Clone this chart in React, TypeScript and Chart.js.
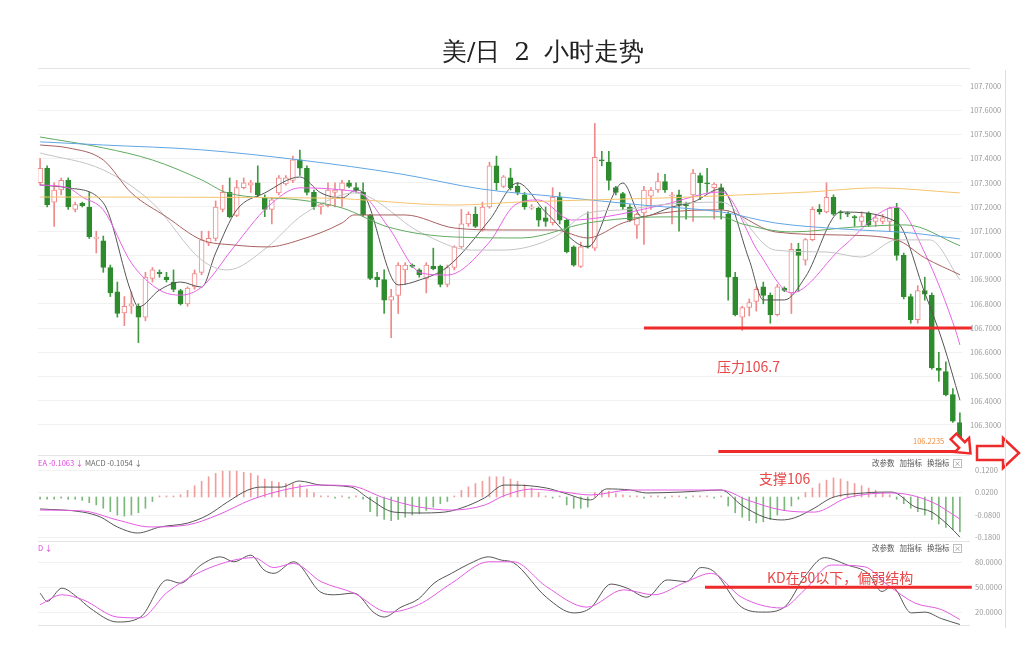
import React, { useEffect, useRef } from "react";
import { Chart, registerables } from "chart.js";
Chart.register(...registerables);

// ---------- candles ----------
const openP = [107.30,107.36,107.22,107.27,107.31,107.19,107.215,107.20,107.07,107.06,106.95,106.85,106.762,106.79,106.79,106.745,106.905,106.93,106.91,106.89,106.855,106.80,106.87,106.93,107.05,107.07,107.19,107.26,107.165,107.28,107.29,107.30,107.24,107.19,107.258,107.295,107.31,107.395,107.36,107.26,107.20,107.205,107.26,107.27,107.30,107.28,107.26,107.165,106.91,106.90,106.815,106.835,106.94,106.96,106.94,106.905,106.955,106.955,106.88,106.95,107.035,107.13,107.17,107.105,107.20,107.37,107.285,107.32,107.285,107.25,107.195,107.195,107.155,107.135,107.24,107.145,107.035,106.955,107.04,107.03,107.395,107.385,107.28,107.255,107.20,107.125,107.175,107.245,107.27,107.305,107.245,107.25,107.21,107.25,107.33,107.30,107.28,107.28,107.17,106.91,106.745,106.785,106.81,106.87,106.835,106.755,106.865,106.845,107.025,106.98,107.065,107.19,107.18,107.24,107.18,107.175,107.16,107.14,107.175,107.14,107.14,107.14,107.195,107.00,106.83,106.735,106.855,106.835,106.535,106.52,106.425,106.31];
const highP = [107.40,107.37,107.30,107.32,107.32,107.22,107.22,107.26,107.10,107.08,106.96,106.89,106.83,106.85,106.80,106.93,106.95,106.94,106.93,106.94,106.86,106.87,106.94,107.10,107.10,107.225,107.29,107.32,107.31,107.32,107.31,107.37,107.25,107.24,107.33,107.33,107.41,107.435,107.37,107.27,107.215,107.30,107.30,107.31,107.31,107.30,107.30,107.17,106.93,106.94,106.86,106.97,106.97,106.965,106.945,106.97,107.03,106.96,106.96,107.04,107.19,107.18,107.20,107.22,107.385,107.41,107.33,107.36,107.30,107.26,107.21,107.20,107.20,107.28,107.26,107.15,107.04,107.055,107.18,107.545,107.43,107.43,107.285,107.26,107.21,107.175,107.285,107.28,107.34,107.335,107.26,107.27,107.22,107.355,107.34,107.36,107.30,107.295,107.18,106.93,106.79,106.82,106.87,106.89,106.845,106.88,106.87,107.05,107.05,107.07,107.20,107.21,107.30,107.25,107.185,107.18,107.165,107.18,107.18,107.17,107.17,107.20,107.215,107.01,106.84,106.875,106.91,106.845,106.60,106.56,106.45,106.35];
const lowP = [107.29,107.20,107.12,107.25,107.19,107.18,107.20,107.07,107.01,106.93,106.83,106.745,106.71,106.76,106.64,106.73,106.89,106.91,106.89,106.85,106.795,106.79,106.86,106.92,107.04,107.06,107.18,107.155,107.16,107.275,107.26,107.24,107.16,107.13,107.25,107.29,107.30,107.33,107.25,107.19,107.17,107.20,107.20,107.20,107.28,107.26,107.16,106.90,106.87,106.76,106.66,106.76,106.88,106.95,106.91,106.845,106.94,106.87,106.87,106.94,107.03,107.12,107.115,107.10,107.195,107.27,107.28,107.27,107.25,107.19,107.19,107.12,107.12,107.125,107.13,107.01,106.955,106.95,107.03,107.02,107.37,107.27,107.25,107.19,107.14,107.07,107.045,107.19,107.26,107.26,107.13,107.10,107.15,107.14,107.23,107.26,107.15,107.15,106.815,106.75,106.69,106.75,106.77,106.80,106.72,106.75,106.85,106.76,106.85,106.96,107.06,107.17,107.175,107.165,107.15,107.16,107.12,107.12,107.12,107.12,107.13,107.10,106.98,106.82,106.72,106.72,106.815,106.53,106.48,106.42,106.31,106.215];
const closeP = [107.36,107.21,107.27,107.31,107.20,107.21,107.205,107.076,107.075,106.95,106.845,106.76,106.79,106.80,106.745,106.91,106.94,106.925,106.90,106.86,106.80,106.865,106.925,107.064,107.07,107.20,107.26,107.16,107.28,107.30,107.30,107.25,107.19,107.23,107.32,107.32,107.395,107.36,107.26,107.20,107.21,107.27,107.27,107.30,107.285,107.27,107.167,106.905,106.90,106.815,106.83,106.96,106.96,106.955,106.92,106.96,106.945,106.88,106.95,107.035,107.13,107.17,107.12,107.20,107.37,107.30,107.325,107.28,107.26,107.20,107.20,107.145,107.14,107.24,107.145,107.015,106.96,107.035,107.035,107.405,107.39,107.31,107.26,107.20,107.145,107.17,107.27,107.27,107.305,107.27,107.25,107.21,107.205,107.34,107.30,107.295,107.295,107.19,106.91,106.755,106.785,106.805,106.86,106.835,106.755,106.87,106.855,107.025,107.00,107.065,107.19,107.18,107.24,107.17,107.175,107.17,107.155,107.16,107.125,107.155,107.155,107.195,107.00,106.83,106.735,106.855,106.84,106.535,106.525,106.425,106.315,106.2235];

// ---------- moving averages [index, price] ----------
const ma5 = [[0,107.291],[4,107.279],[9,107.217],[13,106.845],[14,106.787],[17,106.857],[20,106.890],[23,106.869],[25,107.010],[28,107.188],[32,107.258],[37,107.324],[40,107.258],[43,107.237],[45,107.270],[46,107.258],[51,106.878],[54,106.898],[58,106.952],[64,107.146],[68,107.299],[72,107.179],[78,107.035],[83,107.299],[85.7,107.16],[90,107.20],[93,107.22],[97,107.275],[101,106.981],[103,106.816],[106,106.816],[109,106.911],[114,107.179],[122,107.138],[126,106.845],[128.6,106.638],[131,106.402]];
const ma10 = [[0,107.291],[4,107.279],[6,107.241],[9,107.188],[13,106.969],[17,106.857],[20,106.836],[23,106.869],[27.6,107.035],[32.4,107.200],[37,107.279],[43,107.270],[46,107.250],[49.6,107.117],[54.3,106.927],[58,106.919],[64,107.055],[67.6,107.208],[71,107.229],[75.7,107.146],[80.4,107.159],[88.6,107.208],[97,107.262],[102.4,107.010],[107,106.845],[114.3,107.035],[121.9,107.200],[126,107.01],[130.5,106.68],[131,106.63]];
const ma20 = [[0,107.423],[9,107.353],[16,107.217],[23,106.981],[26.7,106.940],[32.4,107.035],[37,107.159],[43,107.250],[44.7,107.258],[54.3,107.093],[61.4,107.022],[66,107.022],[73.3,107.076],[78,107.175],[83,107.188],[88.6,107.21],[97,107.22],[104.7,107.022],[112,107.014],[117,106.993],[122,107.064],[126.7,107.064],[131,106.90]];
const ma30 = [[0,107.456],[4,107.444],[9,107.394],[13,107.258],[18,107.159],[23,107.064],[27.6,107.043],[32.4,107.035],[37,107.064],[43,107.134],[44.7,107.167],[52,107.167],[59,107.113],[66,107.105],[73.3,107.105],[78,107.072],[83,107.134],[88.6,107.175],[97,107.188],[104.7,107.097],[114.3,107.084],[122,107.064],[126,106.99],[131,106.92]];
const ma60 = [[0,107.489],[9,107.444],[16,107.394],[23,107.312],[26.7,107.258],[37,107.229],[43,107.196],[49.6,107.117],[59,107.076],[68.6,107.072],[78,107.134],[88.6,107.159],[97,107.159],[100,107.13],[107,107.097],[116,107.117],[123.3,107.126],[131,107.04]];
const ma120 = [[0,107.469],[9,107.456],[23,107.436],[37,107.394],[51.4,107.336],[62.9,107.274],[74.3,107.241],[85.7,107.208],[97.1,107.179],[104.7,107.134],[114.3,107.109],[123.9,107.093],[131,107.068]];
const ma250 = [[0,107.241],[40,107.237],[59,107.208],[68.6,107.221],[88.6,107.237],[100,107.250],[109.6,107.262],[119,107.279],[131,107.258]];

// ---------- MACD ----------
const macdHist = [-0.01,-0.01,-0.01,-0.005,-0.01,-0.01,-0.015,
  -0.025,-0.035,-0.05,-0.065,-0.08,-0.085,-0.08,-0.07,-0.05,-0.02,
  0.005,0.005,0.005,0.01,
  0.03,0.05,0.07,0.09,0.105,0.115,0.115,0.115,0.11,0.105,0.095,0.08,0.07,0.065,0.06,0.06,0.055,0.035,0.02,0.005,
  0.005,-0.005,0.005,-0.005,0.005,-0.01,
  -0.065,-0.085,-0.1,-0.105,-0.1,-0.09,-0.08,-0.075,-0.06,-0.045,-0.03,-0.02,0.005,
  0.03,0.045,0.06,0.07,0.09,0.09,0.09,0.08,0.07,0.055,0.04,0.02,0.005,-0.005,0.005,
  -0.035,-0.05,-0.05,-0.045,
  0.02,0.03,0.025,0.015,0.01,0.005,
  0.005,-0.005,0.005,0.005,-0.005,0.005,0.005,-0.005,0.005,0.005,0.005,-0.005,0.005,
  -0.04,-0.07,-0.09,-0.105,-0.115,-0.11,-0.1,-0.08,-0.06,-0.04,-0.01,
  0.02,0.04,0.06,0.075,0.085,0.08,0.07,0.06,0.05,0.04,0.03,0.02,0.01,-0.01,
  -0.03,-0.05,-0.065,-0.08,-0.1,-0.12,-0.135,-0.145,-0.155];
const difLine = [[0,-0.053],[6.1,-0.067],[8.6,-0.089],[11,-0.133],[13.9,-0.16],[17.1,-0.133],[21,-0.116],[23.9,-0.08],[26.7,-0.022],[29.6,0.031],[31.4,0.044],[34.3,0.044],[36.9,0.071],[40,0.053],[44.3,0.044],[46.7,-0.004],[50.4,-0.067],[53.9,-0.071],[57.6,-0.067],[60,-0.049],[63.3,-0.004],[66.1,0.053],[67.4,0.053],[72.1,0.040],[74.6,0.018],[78.4,-0.013],[80.7,0.036],[84.1,0.031],[86.4,0.018],[91.3,0.022],[97,0.031],[99.9,-0.036],[103.1,-0.089],[105.6,-0.102],[107.4,-0.093],[110.3,-0.049],[112.7,-0.004],[117.4,0.018],[121.3,0.022],[124.6,-0.044],[127,-0.067],[129.3,-0.124],[131,-0.178]];
const deaLine = [[0,-0.058],[6.1,-0.062],[11,-0.102],[15.7,-0.133],[21,-0.124],[25.3,-0.08],[30,-0.013],[34.7,0.031],[39.6,0.053],[44.3,0.049],[49,-0.004],[53.9,-0.044],[58.6,-0.058],[63.3,-0.036],[66,0.005],[70,0.035],[74.6,0.022],[78.4,0.009],[84.1,0.031],[97,0.031],[100.7,-0.013],[105.6,-0.058],[110.3,-0.067],[114.9,-0.004],[121.3,0.018],[127,-0.022],[131,-0.098]];

// ---------- KD ----------
const kLine = [[0,43],[1,33],[3.1,49],[5.3,38],[7.1,25],[11,8],[14.3,14],[18.1,59],[20,55],[22.9,77],[25.7,87],[27.6,81],[30,89],[31.9,71],[33.3,67],[36.1,81],[40,44],[41.9,41],[44.7,43],[47.6,19],[49,14],[51.4,26],[53.9,36],[56.1,55],[58.6,67],[61,78],[63.9,87],[65.7,83],[67.4,80],[72.1,38],[76,19],[78.4,25],[81.3,54],[83.6,49],[86.4,38],[89.3,59],[92.1,57],[94.1,74],[96,69],[99.9,26],[103.1,20],[106,26],[108.9,63],[111.7,86],[115,77],[117.9,67],[119.9,45],[121.3,51],[124.1,19],[126,20],[128.4,12],[131,5]];
const dLine = [[0,29],[3.1,41],[6.1,35],[11,14],[14.3,13],[18.1,44],[22.9,69],[27.6,83],[30.4,86],[33.3,74],[36.1,79],[40,57],[44.7,43],[49.6,20],[53.9,29],[58.6,55],[63.9,81],[67.4,81],[72.1,51],[77.9,26],[83.1,47],[87.4,41],[92.1,57],[95.6,67],[99.9,38],[105.6,25],[108.9,47],[112.7,77],[117.4,75],[120.7,53],[124.6,31],[128.4,23],[131,11]];

// ---------- ticks / levels ----------
const priceTicks = [106.3,106.4,106.5,106.6,106.7,106.8,106.9,107.0,107.1,107.2,107.3,107.4,107.5,107.6,107.7];
const macdTicks = [0.12, 0.02, -0.08, -0.18];
const kdTicks = [20, 50, 80];
const resistance = { value: 106.7, from: 86, to: 132.7 };
const support = { value: 106.19, from: 96.6, to: 132.5 };
const kdLevel = { value: 50, from: 94.7, to: 132.7 };

const RED = "#ee2a2a";
const UP = "#f08a8a";
const DOWN = "#2e8b2e";
const CJK = '"Noto Sans CJK SC", "Noto Sans", sans-serif';

const makeX = () => ({ type: "linear", min: -0.3, max: 131.3, display: false, offset: false });
const yAxisCommon = (ticks: number[], pad: number) => ({
  position: "right",
  afterBuildTicks: (s: any) => { s.ticks = ticks.map((v) => ({ value: v })); },
  afterFit: (s: any) => { s.width = 62; s.paddingTop = 0; s.paddingBottom = 0; },
  grid: { color: "#f1f1f1", drawTicks: false },
  border: { display: false },
  ticks: { padding: pad, autoSkip: false, color: "#9a9a9a", font: { size: 7.5, family: CJK }, callback: (v: any) => Number(v).toFixed(4) },
});

const pts = (arr: number[][]) => arr.map(([x, y]) => ({ x, y }));
const lineDs = (arr: number[][], color: string, width = 1) => ({
  type: "line", data: pts(arr), borderColor: color, borderWidth: width, pointRadius: 0,
  cubicInterpolationMode: "monotone", fill: false, order: 0,
});

const drawLevel = (chart: any, lv: { value: number; from: number; to: number }) => {
  const { ctx, scales } = chart;
  const y = scales.y.getPixelForValue(lv.value);
  ctx.save();
  ctx.strokeStyle = RED; ctx.lineWidth = 3;
  ctx.beginPath();
  ctx.moveTo(scales.x.getPixelForValue(lv.from), y);
  ctx.lineTo(scales.x.getPixelForValue(lv.to), y);
  ctx.stroke(); ctx.restore();
};
const topBorder = (chart: any, bottom = false) => {
  const { ctx, chartArea } = chart;
  ctx.save(); ctx.strokeStyle = "#e4e4e4"; ctx.lineWidth = 1;
  ctx.beginPath();
  ctx.moveTo(chartArea.left, chartArea.top + 0.5); ctx.lineTo(chartArea.right + 8, chartArea.top + 0.5);
  if (bottom) { ctx.moveTo(chartArea.left, chartArea.bottom - 0.5); ctx.lineTo(chartArea.right + 8, chartArea.bottom - 0.5); }
  ctx.stroke(); ctx.restore();
};
const arrow = (ctx: any, cx: number, cy: number, ang: number, pts2: number[][]) => {
  ctx.save(); ctx.translate(cx, cy); ctx.rotate(ang);
  ctx.beginPath();
  pts2.forEach(([x, y], i) => (i ? ctx.lineTo(x, y) : ctx.moveTo(x, y)));
  ctx.closePath(); ctx.fillStyle = "#fff"; ctx.fill();
  ctx.strokeStyle = RED; ctx.lineWidth = 2.5; ctx.lineJoin = "miter"; ctx.stroke(); ctx.restore();
};

export default function App() {
  const refA = useRef<HTMLCanvasElement>(null);
  const refB = useRef<HTMLCanvasElement>(null);
  const refC = useRef<HTMLCanvasElement>(null);

  useEffect(() => {
    const idx = openP.map((_, i) => i);
    const up = idx.map((i) => closeP[i] >= openP[i]);
    const base = { animation: false, responsive: false, events: [] } as any;
    const noPlug = () => ({ legend: { display: false }, tooltip: { enabled: false }, title: { display: false } });

    const a = new Chart(refA.current!, {
      type: "bar",
      data: {
        datasets: [
          lineDs(ma250, "#f6c46e"), lineDs(ma120, "#62a6e4"), lineDs(ma60, "#62aa62"),
          lineDs(ma30, "#a86060"), lineDs(ma20, "#c4c4c4"), lineDs(ma10, "#e862e8"), lineDs(ma5, "#555555"),
          { type: "bar", data: idx.map((i) => ({ x: i, y: [openP[i], closeP[i]] })), backgroundColor: idx.map((i) => (up[i] ? "#ffffff" : DOWN)), borderColor: idx.map((i) => (up[i] ? UP : DOWN)), borderWidth: 1, borderSkipped: false, barThickness: 5, grouped: false, minBarLength: 1, order: 2 },
          { type: "bar", data: idx.map((i) => ({ x: i, y: [lowP[i], highP[i]] })), backgroundColor: idx.map((i) => (up[i] ? UP : "#3f9a3f")), barThickness: 1, grouped: false, order: 3 },
        ] as any,
      },
      options: {
        ...base,
        layout: { autoPadding: false, padding: { left: 38, top: 68, bottom: 20, right: 0 } },
        scales: { x: makeX(), y: { ...yAxisCommon(priceTicks, 8), min: 106.188, max: 107.774 } } as any,
        plugins: noPlug(),
      },
      plugins: [{
        id: "annA",
        afterDraw(chart: any) {
          topBorder(chart);
          drawLevel(chart, resistance);
          drawLevel(chart, support);
          const ctx = chart.ctx;
          arrow(ctx, 962, 445, Math.PI / 4, [[-12, -4], [0, -4], [0, -10], [12, 0], [0, 10], [0, 4], [-12, 4]]);
          arrow(ctx, 998, 453, 0, [[-21, -7], [5, -7], [5, -15], [21, 0], [5, 15], [5, 7], [-21, 7]]);
        },
      }],
    } as any);

    const b = new Chart(refB.current!, {
      type: "bar",
      data: {
        datasets: [
          lineDs(deaLine, "#e35be3"), lineDs(difLine, "#555555"),
          { type: "bar", data: idx.map((i) => ({ x: i, y: macdHist[i] })), backgroundColor: idx.map((i) => (macdHist[i] >= 0 ? "#f29c9c" : "#7ab87a")), barThickness: 1, grouped: false, minBarLength: 1, order: 2 },
        ] as any,
      },
      options: {
        ...base,
        layout: { autoPadding: false, padding: { left: 38, top: 1, bottom: 0, right: 0 } },
        scales: { x: makeX(), y: { ...yAxisCommon(macdTicks, 13), min: -0.1911, max: 0.1867 } } as any,
        plugins: noPlug(),
      },
      plugins: [{ id: "annB", afterDraw(chart: any) { topBorder(chart); } }],
    } as any);

    const c = new Chart(refC.current!, {
      type: "line",
      data: { datasets: [lineDs(dLine, "#e35be3"), lineDs(kLine, "#555555")] as any },
      options: {
        ...base,
        layout: { autoPadding: false, padding: { left: 38, top: 1, bottom: 4, right: 0 } },
        scales: { x: makeX(), y: { ...yAxisCommon(kdTicks, 13), min: 3.15, max: 106.2 } } as any,
        plugins: noPlug(),
      },
      plugins: [{ id: "annC", afterDraw(chart: any) { topBorder(chart, true); drawLevel(chart, kdLevel); } }],
    } as any);

    return () => { a.destroy(); b.destroy(); c.destroy(); };
  }, []);

  const abs = (left: number, top: number, extra: any = {}) => ({ position: "absolute", left, top, whiteSpace: "nowrap", ...extra }) as any;
  const small = { fontFamily: CJK, fontSize: "7.5px", lineHeight: "9px", color: "#555" };
  const note = { fontFamily: CJK, fontSize: "14px", lineHeight: "18px", color: "#e84848" };
  const tools = (top: number) => (
    <div style={abs(872, top, small)}>
      改参数&nbsp;&nbsp;&nbsp;加指标&nbsp;&nbsp;&nbsp;换指标&nbsp;&nbsp;
      <span style={{ display: "inline-block", border: "1px solid #bbb", width: 7, height: 7, lineHeight: "7px", textAlign: "center", fontSize: "7px", color: "#888" }}>×</span>
    </div>
  );

  return (
    <div style={{ position: "absolute", left: 0, top: 0, width: 1024, height: 649, background: "#fff", overflow: "hidden" }}>
      <canvas ref={refB} width={1024} height={86} style={{ position: "absolute", left: 0, top: 454 }} />
      <canvas ref={refC} width={1024} height={90} style={{ position: "absolute", left: 0, top: 540 }} />
      <canvas ref={refA} width={1024} height={472} style={{ position: "absolute", left: 0, top: 0 }} />
      <div style={{ position: "absolute", left: 1005, top: 70, width: 1, height: 558, background: "#dedede" }} />
      <div style={abs(543, 36, { transform: "translateX(-50%)", fontFamily: '"DejaVu Serif", serif', fontSize: "25px", lineHeight: "32px", color: "#222", wordSpacing: "6px" })}>美/日 2 小时走势</div>
      <div style={abs(717, 357, note)}>压力106.7</div>
      <div style={abs(759, 469, note)}>支撑106</div>
      <div style={abs(767, 568, note)}>KD在50以下，偏弱结构</div>
      <div style={abs(913, 436, { ...small, color: "#f08a3c" })}>106.2235</div>
      <div style={abs(38, 458, small)}>
        <span style={{ color: "#e040e0" }}>EA -0.1063 ↓</span>&nbsp;<span style={{ color: "#666" }}>MACD -0.1054 ↓</span>
      </div>
      <div style={abs(38, 543, { ...small, color: "#e040e0" })}>D ↓</div>
      {tools(458)}
      {tools(543)}
    </div>
  );
}
